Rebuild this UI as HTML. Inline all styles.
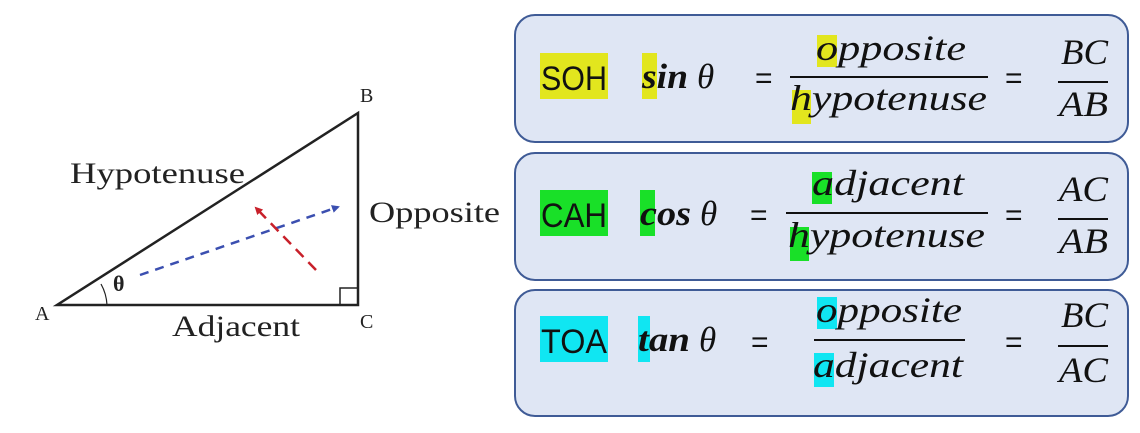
<!DOCTYPE html>
<html><head><meta charset="utf-8"><style>
html,body{margin:0;padding:0;background:#fff;}
svg{display:block;}
.lbl{font-family:"Liberation Serif",serif;fill:#222;}
.m{font-family:"Liberation Serif",serif;font-style:italic;fill:#111;}
.s{font-family:"Liberation Sans",sans-serif;fill:#111;}
</style></head><body>
<svg width="1140" height="433" viewBox="0 0 1140 433" xmlns="http://www.w3.org/2000/svg">
<defs>
<marker id="bl" markerWidth="8" markerHeight="8" refX="6" refY="4" orient="auto" markerUnits="userSpaceOnUse"><path d="M0,0 L8,4 L0,8z" fill="#3b4fb0"/></marker>
<marker id="rd" markerWidth="8" markerHeight="8" refX="6" refY="4" orient="auto" markerUnits="userSpaceOnUse"><path d="M0,0 L8,4 L0,8z" fill="#c8202a"/></marker>
</defs>
<path d="M57,305 L358,305 L358,113 Z" fill="none" stroke="#222" stroke-width="2.5"/>
<path d="M340,305 L340,288 L358,288" fill="none" stroke="#222" stroke-width="1.5"/>
<path d="M101,284 A48,48 0 0 1 107,305" fill="none" stroke="#222" stroke-width="1.2"/>
<line x1="140" y1="275" x2="338" y2="207" stroke="#3b4fb0" stroke-width="2.5" stroke-dasharray="9,7" marker-end="url(#bl)"/>
<line x1="316" y1="270" x2="256" y2="208" stroke="#c8202a" stroke-width="2.5" stroke-dasharray="11,7" marker-end="url(#rd)"/>
<text class="lbl" x="360" y="102" font-size="20">B</text>
<text class="lbl" x="35" y="320" font-size="20">A</text>
<text class="lbl" x="360" y="328" font-size="20">C</text>
<text class="lbl" x="70" y="183" font-size="30" textLength="175" lengthAdjust="spacingAndGlyphs">Hypotenuse</text>
<text class="lbl" x="369" y="222" font-size="30" textLength="131" lengthAdjust="spacingAndGlyphs">Opposite</text>
<text class="lbl" x="172" y="336" font-size="30" textLength="128" lengthAdjust="spacingAndGlyphs">Adjacent</text>
<text class="lbl" x="113" y="291" font-size="22" font-weight="bold">θ</text>

<g stroke="#3f5b96" stroke-width="2" fill="#dfe6f4">
<rect x="515" y="15" width="613" height="127" rx="20"/>
<rect x="515" y="153" width="613" height="127" rx="20"/>
<rect x="515" y="290" width="613" height="126" rx="20"/>
</g>

<!-- box1 -->
<rect x="540" y="53" width="68" height="46" fill="#e2e61e"/>
<rect x="642" y="53" width="15" height="46" fill="#e2e61e"/>
<rect x="817" y="35" width="20" height="32" fill="#e2e61e"/>
<rect x="792" y="90" width="19" height="34" fill="#e2e61e"/>
<text class="s" x="541" y="90" font-size="34" textLength="66" lengthAdjust="spacingAndGlyphs">SOH</text>
<text class="m" x="642" y="88" font-size="35" font-weight="bold" textLength="46" lengthAdjust="spacingAndGlyphs">sin</text>
<text class="m" x="697" y="88" font-size="35">θ</text>
<text class="s" x="755" y="88" font-size="30">=</text>
<line x1="790" y1="77" x2="988" y2="77" stroke="#111" stroke-width="2"/>
<text class="m" x="816" y="60" font-size="36" textLength="150" lengthAdjust="spacingAndGlyphs">opposite</text>
<text class="m" x="790" y="110" font-size="36" textLength="197" lengthAdjust="spacingAndGlyphs">hypotenuse</text>
<text class="s" x="1005" y="88" font-size="30">=</text>
<line x1="1058" y1="82" x2="1108" y2="82" stroke="#111" stroke-width="2"/>
<text class="m" x="1061" y="64" font-size="36" textLength="47" lengthAdjust="spacingAndGlyphs">BC</text>
<text class="m" x="1059" y="116" font-size="36" textLength="49" lengthAdjust="spacingAndGlyphs">AB</text>

<!-- box2 -->
<rect x="540" y="190" width="68" height="46" fill="#19e028"/>
<rect x="640" y="190" width="15" height="46" fill="#19e028"/>
<rect x="812" y="172" width="20" height="32" fill="#19e028"/>
<rect x="790" y="227" width="19" height="34" fill="#19e028"/>
<text class="s" x="541" y="227" font-size="34" textLength="66" lengthAdjust="spacingAndGlyphs">CAH</text>
<text class="m" x="640" y="225" font-size="35" font-weight="bold" textLength="51" lengthAdjust="spacingAndGlyphs">cos</text>
<text class="m" x="700" y="225" font-size="35">θ</text>
<text class="s" x="750" y="225" font-size="30">=</text>
<line x1="786" y1="213" x2="988" y2="213" stroke="#111" stroke-width="2"/>
<text class="m" x="812" y="195" font-size="36" textLength="152" lengthAdjust="spacingAndGlyphs">adjacent</text>
<text class="m" x="788" y="247" font-size="36" textLength="197" lengthAdjust="spacingAndGlyphs">hypotenuse</text>
<text class="s" x="1005" y="225" font-size="30">=</text>
<line x1="1058" y1="219" x2="1108" y2="219" stroke="#111" stroke-width="2"/>
<text class="m" x="1059" y="201" font-size="36" textLength="49" lengthAdjust="spacingAndGlyphs">AC</text>
<text class="m" x="1059" y="253" font-size="36" textLength="49" lengthAdjust="spacingAndGlyphs">AB</text>

<!-- box3 -->
<rect x="540" y="316" width="68" height="46" fill="#10e6f2"/>
<rect x="638" y="316" width="12" height="46" fill="#10e6f2"/>
<rect x="817" y="297" width="20" height="32" fill="#10e6f2"/>
<rect x="814" y="353" width="20" height="34" fill="#10e6f2"/>
<text class="s" x="541" y="353" font-size="34" textLength="66" lengthAdjust="spacingAndGlyphs">TOA</text>
<text class="m" x="638" y="351" font-size="35" font-weight="bold" textLength="52" lengthAdjust="spacingAndGlyphs">tan</text>
<text class="m" x="699" y="351" font-size="35">θ</text>
<text class="s" x="751" y="352" font-size="30">=</text>
<line x1="814" y1="340" x2="965" y2="340" stroke="#111" stroke-width="2"/>
<text class="m" x="816" y="322" font-size="36" textLength="146" lengthAdjust="spacingAndGlyphs">opposite</text>
<text class="m" x="813" y="377" font-size="36" textLength="150" lengthAdjust="spacingAndGlyphs">adjacent</text>
<text class="s" x="1005" y="352" font-size="30">=</text>
<line x1="1058" y1="346" x2="1108" y2="346" stroke="#111" stroke-width="2"/>
<text class="m" x="1061" y="327" font-size="36" textLength="47" lengthAdjust="spacingAndGlyphs">BC</text>
<text class="m" x="1059" y="382" font-size="36" textLength="49" lengthAdjust="spacingAndGlyphs">AC</text>
</svg>
</body></html>
